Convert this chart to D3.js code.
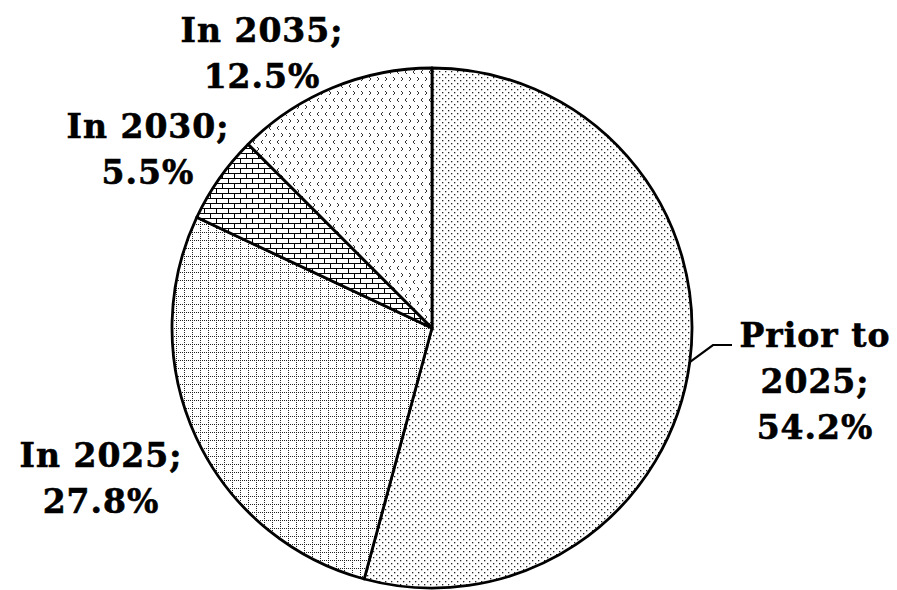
<!DOCTYPE html>
<html>
<head>
<meta charset="utf-8">
<script src="https://cdn.jsdelivr.net/npm/d3@7"></script>
<style>
  body { margin: 0; background: #fff; }
  svg { display: block; }
  .lbl { font-family: "DejaVu Serif", serif; font-weight: bold; font-size: 33px; letter-spacing: 1px;
         fill: #000; stroke: #000; stroke-width: 0.6px; }
</style>
</head>
<body>
<svg id="chart" width="897" height="590"></svg>
<script>
// data
var categories = ["Prior to 2025", "In 2025", "In 2030", "In 2035"];
var shares = [54.2, 27.8, 5.5, 12.5];
var labelLines = [["Prior to", "2025;", "54.2%"], ["In 2025;", "27.8%"], ["In 2030;", "5.5%"], ["In 2035;", "12.5%"]];

var svg = d3.select("#chart"),
    cx = 432, cy = 328, radius = 260;

var defs = svg.append("defs");

// fine dots
var p0 = defs.append("pattern").attr("id", "pat0").attr("patternUnits", "userSpaceOnUse")
    .attr("width", 6).attr("height", 6);
p0.append("rect").attr("width", 6).attr("height", 6).attr("fill", "#fff");
p0.append("rect").attr("x", 1).attr("y", 1).attr("width", 1.3).attr("height", 1.3).attr("fill", "#222");
p0.append("rect").attr("x", 4).attr("y", 4).attr("width", 1.3).attr("height", 1.3).attr("fill", "#222");

// dotted grid
var p1 = defs.append("pattern").attr("id", "pat1").attr("patternUnits", "userSpaceOnUse")
    .attr("width", 8).attr("height", 8);
p1.append("rect").attr("width", 8).attr("height", 8).attr("fill", "#fff");
p1.append("path").attr("d", "M0,0.5H8M0.5,0V8").attr("stroke", "#222").attr("stroke-width", 1)
    .attr("stroke-dasharray", "1,1");

// bricks
var p2 = defs.append("pattern").attr("id", "pat2").attr("patternUnits", "userSpaceOnUse")
    .attr("width", 12).attr("height", 10);
p2.append("rect").attr("width", 12).attr("height", 10).attr("fill", "#fff");
p2.append("path").attr("d", "M0,0.5H12M0,5.5H12M0.5,0V5M6.5,5V10")
    .attr("stroke", "#000").attr("stroke-width", 1).attr("fill", "none");

// chevrons
var p3 = defs.append("pattern").attr("id", "pat3").attr("patternUnits", "userSpaceOnUse")
    .attr("width", 8).attr("height", 14);
p3.append("rect").attr("width", 8).attr("height", 14).attr("fill", "#fff");
p3.append("path").attr("d", "M1,1L3,3L1,5").attr("stroke", "#333").attr("stroke-width", 1).attr("fill", "none");
p3.append("path").attr("d", "M7,8L5,10L7,12").attr("stroke", "#333").attr("stroke-width", 1).attr("fill", "none");

var pie = d3.pie().sort(null).value(function(d) { return d; });
var arcs = pie(shares);
var arc = d3.arc().innerRadius(0).outerRadius(radius);

var g = svg.append("g").attr("transform", "translate(" + cx + "," + cy + ")");

g.selectAll(".slice")
    .data(arcs)
    .enter().append("path")
    .attr("class", "slice")
    .attr("d", arc)
    .attr("fill", function(d, i) { return "url(#pat" + i + ")"; })
    .attr("stroke", "#000")
    .attr("stroke-width", 2.8)
    .attr("stroke-linejoin", "round");

// label placement (layout, relative to center)
var labelAt = [[383, 19], [-331, 139], [-284, -190], [-170, -286]];
var lineH = 46;

arcs.forEach(function(a, i) {
    var t = g.append("text").attr("class", "lbl").attr("text-anchor", "middle")
        .attr("x", labelAt[i][0]).attr("y", labelAt[i][1]);
    labelLines[i].forEach(function(s, k) {
        t.append("tspan").attr("x", labelAt[i][0]).attr("dy", k === 0 ? 0 : lineH).text(s);
    });
});

// leader line for first slice
var mid0 = (arcs[0].startAngle + arcs[0].endAngle) / 2;
var ex = Math.sin(mid0) * radius, ey = -Math.cos(mid0) * radius;
g.append("path")
    .attr("d", "M" + ex + "," + ey + "L" + 281 + "," + 17 + "H" + 300)
    .attr("fill", "none").attr("stroke", "#000").attr("stroke-width", 2.2);
</script>
</body>
</html>
